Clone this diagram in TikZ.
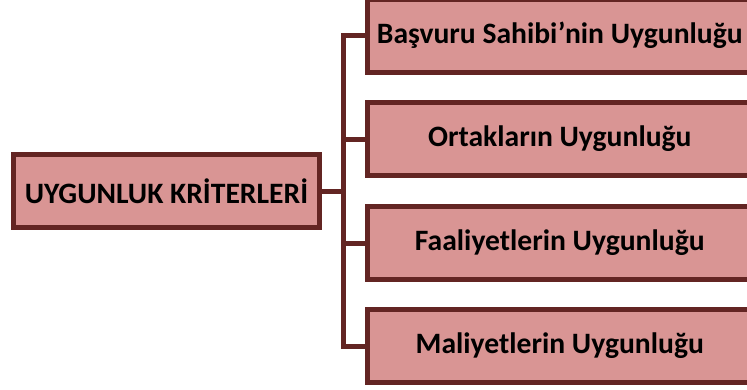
\documentclass[tikz,border=0pt]{standalone}
\usepackage{fontspec}
\setmainfont{Carlito}
\definecolor{boxfill}{HTML}{D99594}
\definecolor{boxline}{HTML}{632523}
\begin{document}
\begin{tikzpicture}[x=1pt,y=1pt,
  crit/.style={draw=boxline, fill=boxfill, line width=5pt, rectangle,
    inner sep=0pt, minimum height=73pt, font=\fontsize{29.6}{34}\selectfont\bfseries, text=black},
  link/.style={draw=boxline, line width=5pt, line join=miter}]
\useasboundingbox (0,0) rectangle (747,-389);
\node[crit, minimum width=306pt] (root) at (166.5,-191) {UYGUNLUK KRİTERLERİ};
\node[crit, minimum width=384.5pt] (b1) at (559.75,-35.5) {Başvuru Sahibi’nin Uygunluğu};
\node[crit, minimum width=384.5pt] (b2) at (559.75,-139) {Ortakların Uygunluğu};
\node[crit, minimum width=384.5pt] (b3) at (559.75,-243) {Faaliyetlerin Uygunluğu};
\node[crit, minimum width=384.5pt] (b4) at (559.75,-346) {Maliyetlerin Uygunluğu};
\coordinate (j) at (343,-191);
\draw[link] (root.east) -- (j);
\draw[link] (b1.west) -- (b1.west -| j) -- (b4.west -| j) -- (b4.west);
\draw[link] (b2.west -| j) -- (b2.west);
\draw[link] (b3.west -| j) -- (b3.west);
\end{tikzpicture}
\end{document}
